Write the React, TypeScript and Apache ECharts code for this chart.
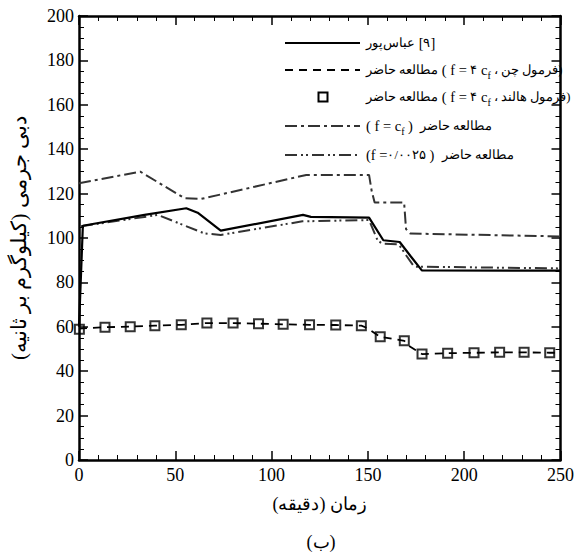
import React, { useEffect, useRef } from "react";
import * as echarts from "echarts";

// ---- data (time in minutes, mass flow in kg/s) ----
const abbaspourT = [0, 2, 34, 55.7, 61.6, 73.6, 116.3, 120.4, 150.6, 158, 166.5, 172, 178, 250];
const abbaspourV = [60, 105.5, 110.4, 113.4, 111.4, 103.3, 110.4, 109.5, 109.2, 99, 98.2, 92, 85.4, 85.3];

const chenT = [0, 13.5, 26.6, 39.4, 53.1, 66.4, 80, 93.2, 106, 119.7, 133.3, 146.6, 149.5, 156.4, 168.9, 172, 178.1, 191.4, 205.1, 218.4, 231.1, 244.4, 250];
const chenV = [59.2, 59.8, 60.1, 60.5, 60.9, 61.7, 61.7, 61.4, 61.1, 60.9, 60.8, 60.5, 59.5, 55.5, 53.7, 51, 47.7, 48.1, 48.3, 48.5, 48.5, 48.3, 48.3];

const hollandT = [0.2, 13.5, 26.6, 39.4, 53.1, 66.4, 80, 93.2, 106, 119.7, 133.3, 146.6, 156.4, 168.9, 178.1, 191.4, 205.1, 218.4, 231.1, 244.4];
const hollandV = [58.9, 59.8, 60.0, 60.5, 60.9, 61.7, 61.7, 61.4, 61.1, 60.9, 60.8, 60.5, 55.5, 53.7, 47.7, 48.1, 48.3, 48.5, 48.5, 48.3];

const cfT = [0, 31.8, 54.8, 63.4, 118, 150.6, 152, 153.5, 168.8, 169.8, 172, 250];
const cfV = [124.7, 129.9, 117.9, 117.6, 128.4, 128.4, 121, 116, 116, 104, 102, 100.7];

const c0025T = [1, 41, 65, 73.6, 116, 150.6, 155, 157.5, 166, 170, 174, 250];
const c0025V = [105.3, 110.4, 102.1, 101.4, 107.5, 108.1, 99, 97.4, 97.2, 92, 87.1, 86.3];

const xTicks = { min: 0, max: 250, interval: 50 };
const yTicks = { min: 0, max: 200, interval: 20 };

const RLI = "\u2067";
const PDI = "\u2069";
const xName = RLI + "زمان (دقیقه)" + PDI;
const yName = RLI + "دبی جرمی (کیلوگرم بر ثانیه)" + PDI;
const caption = "(ب)";

const legendTexts = [
  `{ar|${RLI}عباس‌پور${PDI}}{la| [}{ar|۹}{la|]}`,
  `{ar|${RLI}مطالعه حاضر${PDI}}{la| ( f = }{ar|۴}{la| c}{sub|f}{ar| ، ${RLI}فرمول چن${PDI})}`,
  `{ar|${RLI}مطالعه حاضر${PDI}}{la| ( f = }{ar|۴}{la| c}{sub|f}{ar| ، ${RLI}فرمول هالند${PDI})}`,
  `{la|( f = c}{sub|f}{la| )  }{ar|${RLI}مطالعه حاضر${PDI}}`,
  `{la|(f =}{ar|۰/۰۰۲۵}{la| )  }{ar|${RLI}مطالعه حاضر${PDI}}`,
];

const zip = (t: number[], v: number[]) => t.map((x, i) => [x, v[i]]);

const FONT = "Liberation Serif";

export default function App() {
  const ref = useRef<HTMLDivElement>(null);
  useEffect(() => {
    if (!ref.current) return;
    const chart = echarts.init(ref.current, null, { renderer: "svg" });
    const axisCommon = {
      axisLine: { show: true, onZero: false, lineStyle: { color: "#000", width: 2.5 } },
      axisTick: { show: true, inside: true, length: 9, lineStyle: { color: "#000", width: 1.5 } },
      minorTick: { show: true, length: 5, lineStyle: { color: "#000", width: 1 } },
      splitLine: { show: false },
      minorSplitLine: { show: false },
    };
    const labelStyle = { color: "#000", fontSize: 18, fontFamily: FONT };
    const rich = {
      ar: { fontSize: 12.5, fontFamily: FONT, color: "#000", lineHeight: 20, verticalAlign: "middle" },
      la: { fontSize: 14.5, fontFamily: FONT, color: "#000", lineHeight: 20, verticalAlign: "middle" },
      sub: { fontSize: 10, fontFamily: FONT, color: "#000", lineHeight: 10, verticalAlign: "bottom" },
    };
    const rowsY = [43, 70, 97, 126, 155];
    const lx1 = 285, lx2 = 360, tx = 366;
    const graphic: any[] = [
      { type: "line", shape: { x1: lx1, y1: rowsY[0], x2: lx2, y2: rowsY[0] }, style: { stroke: "#000", lineWidth: 2.2 } },
      { type: "line", shape: { x1: lx1, y1: rowsY[1], x2: lx2, y2: rowsY[1] }, style: { stroke: "#000", lineWidth: 1.8, lineDash: [8, 6] } },
      { type: "rect", shape: { x: 318.5, y: rowsY[2] - 4.5, width: 9, height: 9 }, style: { stroke: "#000", fill: "none", lineWidth: 2 } },
      { type: "line", shape: { x1: lx1, y1: rowsY[3], x2: lx2, y2: rowsY[3] }, style: { stroke: "#333", lineWidth: 2, lineDash: [12, 4, 3, 4] } },
      { type: "line", shape: { x1: lx1, y1: rowsY[4], x2: lx2, y2: rowsY[4] }, style: { stroke: "#333", lineWidth: 2, lineDash: [12, 4, 2, 3, 2, 4] } },
      ...legendTexts.map((t, i) => ({
        type: "text",
        x: tx,
        y: rowsY[i],
        style: { text: t, rich, fontFamily: FONT, fontSize: 14, fill: "#000", align: "left", verticalAlign: "middle" },
      })),
    ];
    chart.setOption({
      animation: false,
      backgroundColor: "#fff",
      textStyle: { fontFamily: FONT },
      grid: { left: 73, top: 16, width: 488, height: 444, containLabel: false },
      title: {
        text: caption,
        left: 316,
        top: 528,
        textAlign: "center",
        textStyle: { fontSize: 18, fontWeight: "normal", fontFamily: FONT, color: "#000" },
      },
      xAxis: [
        {
          type: "value", position: "bottom", ...xTicks, ...axisCommon,
          minorTick: { ...axisCommon.minorTick, splitNumber: 5 },
          axisLabel: { ...labelStyle, margin: 6 },
          name: xName, nameLocation: "middle", nameGap: 35,
          nameTextStyle: { color: "#000", fontSize: 18, fontFamily: FONT },
        },
        {
          type: "value", position: "top", ...xTicks, ...axisCommon,
          minorTick: { ...axisCommon.minorTick, splitNumber: 5 },
          axisLabel: { show: false },
        },
      ],
      yAxis: [
        {
          type: "value", position: "left", ...yTicks, ...axisCommon,
          minorTick: { ...axisCommon.minorTick, splitNumber: 4 },
          axisLabel: { ...labelStyle, margin: 5 },
          name: yName, nameLocation: "middle", nameGap: 50,
          nameTextStyle: { color: "#000", fontSize: 21, fontFamily: FONT },
        },
        {
          type: "value", position: "right", ...yTicks, ...axisCommon,
          minorTick: { ...axisCommon.minorTick, splitNumber: 4 },
          axisLabel: { show: false },
        },
      ],
      series: [
        {
          name: "abbaspour", type: "line", data: zip(abbaspourT, abbaspourV), symbol: "none",
          lineStyle: { color: "#000", width: 2.2 }, z: 5,
        },
        {
          name: "chen", type: "line", data: zip(chenT, chenV), symbol: "none",
          lineStyle: { color: "#000", width: 1.8, type: [8, 6] }, z: 4,
        },
        {
          name: "holland", type: "scatter", data: zip(hollandT, hollandV), symbol: "rect", symbolSize: 9,
          itemStyle: { color: "rgba(0,0,0,0)", borderColor: "#000", borderWidth: 2 }, z: 6,
        },
        {
          name: "cf", type: "line", data: zip(cfT, cfV), symbol: "none",
          lineStyle: { color: "#333", width: 2, type: [12, 4, 3, 4] }, z: 3,
        },
        {
          name: "c0025", type: "line", data: zip(c0025T, c0025V), symbol: "none",
          lineStyle: { color: "#333", width: 2, type: [12, 4, 2, 3, 2, 4] }, z: 3,
        },
      ],
      graphic,
    });
    return () => chart.dispose();
  }, []);
  return (
    <div
      ref={ref}
      style={{ position: "fixed", left: 0, top: 0, width: 577, height: 555, background: "#fff" }}
    />
  );
}
